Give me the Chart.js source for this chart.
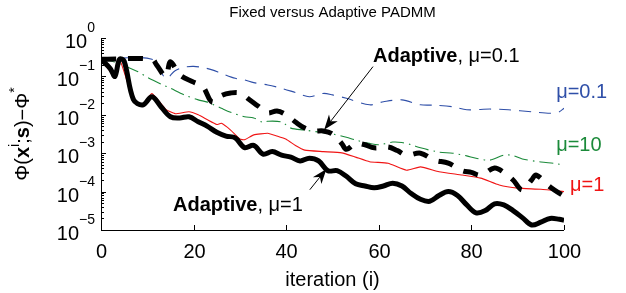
<!DOCTYPE html>
<html>
<head>
<meta charset="utf-8">
<script src="https://cdn.jsdelivr.net/npm/chart.js@4.4.0/dist/chart.umd.min.js"></script>
<style>
  html, body { margin: 0; padding: 0; background: #fff; }
  #wrap { width: 626px; height: 293px; }
</style>
</head>
<body>
<div id="wrap"><canvas id="chart" width="626" height="293"></canvas></div>
<script>
// Fixed mu = 0.1 (blue dashed)
const fixed01Iter = [0, 11, 14, 16, 18, 20, 22, 24, 26, 29, 31, 33, 36, 39, 42, 45, 48, 50, 53, 58, 61, 65, 69, 72, 76, 79, 84, 88, 93, 97, 99, 100];
const fixed01Vals = [2.8e-1, 2.8e-1, 8.9e-2, 1.41e-1, 1.74e-1, 1.82e-1, 1.7e-1, 1.48e-1, 1.2e-1, 8.9e-2, 8.1e-2, 6.9e-2, 6.0e-2, 4.9e-2, 3.8e-2, 2.95e-2, 3.6e-2, 3.3e-2, 2.69e-2, 1.82e-2, 2.19e-2, 2.45e-2, 1.82e-2, 1.78e-2, 1.62e-2, 1.35e-2, 1.41e-2, 1.35e-2, 1.2e-2, 1.1e-2, 1.2e-2, 1.48e-2];

// Fixed mu = 10 (green dash-dot)
const fixed10Iter = [0, 3, 8, 10, 13, 15, 18, 21, 23, 26, 28, 31, 33, 35, 36, 39, 41, 44, 47, 50, 53, 55, 58, 60, 63, 65, 67, 69, 73, 76, 79, 81, 84, 87, 89, 91, 95, 98, 100];
const fixed10Vals = [2.8e-1, 2.34e-1, 1.32e-1, 9.5e-2, 6.3e-2, 4.9e-2, 3.3e-2, 2.45e-2, 2.14e-2, 1.48e-2, 1.17e-2, 8.9e-3, 8.3e-3, 6.3e-3, 6.8e-3, 6.5e-3, 4.5e-3, 4.0e-3, 3.55e-3, 3.16e-3, 2.6e-3, 2.2e-3, 1.8e-3, 1.66e-3, 1.95e-3, 1.9e-3, 1.66e-3, 1.38e-3, 1.07e-3, 1.0e-3, 8.5e-4, 7.4e-4, 6.6e-4, 8.9e-4, 8.7e-4, 7.1e-4, 5.9e-4, 5.4e-4, 4.9e-4];

// Fixed mu = 1 (red solid)
const fixed1Iter = [0, 3, 4, 7, 9, 11, 14, 16, 19, 21, 23, 25, 26, 28, 30, 31, 33, 36, 38, 40, 42, 44, 48, 52, 55, 58, 62, 66, 69, 73, 78, 82, 86, 90, 95, 100];
const fixed1Vals = [2.8e-1, 1.0e-1, 2.8e-1, 2.5e-2, 1.9e-2, 3.6e-2, 1.38e-2, 1.07e-2, 1.2e-2, 1.0e-2, 7.4e-3, 5.6e-3, 6.0e-3, 4.0e-3, 2.34e-3, 2.24e-3, 3.0e-3, 3.3e-3, 2.8e-3, 2.3e-3, 1.58e-3, 1.2e-3, 1.1e-3, 1.02e-3, 7.9e-4, 6.0e-4, 5.5e-4, 3.6e-4, 4.4e-4, 3.3e-4, 2.7e-4, 2.24e-4, 1.48e-4, 1.23e-4, 1.15e-4, 1.0e-4];

// Adaptive, mu = 0.1 (thick black dashed)
const adapt01Iter = [0, 11, 12, 14, 15, 17, 20, 22, 24, 26, 28, 30, 32, 34, 36, 38, 40, 42, 44, 46, 48, 50, 52, 53, 55, 57, 59, 62, 64, 66, 69, 72, 75, 78, 80, 82, 85, 87, 89, 91, 93, 94, 97, 100];
const adapt01Vals = [2.8e-1, 2.8e-1, 2.0e-1, 1.0e-1, 2.4e-1, 1.1e-1, 7.1e-2, 5.4e-2, 2.14e-2, 3.16e-2, 3.7e-2, 3.7e-2, 2.5e-2, 1.66e-2, 1.12e-2, 1.26e-2, 1.0e-2, 6.5e-3, 4.5e-3, 3.8e-3, 3.8e-3, 3.16e-3, 1.78e-3, 1.26e-3, 1.78e-3, 1.66e-3, 1.38e-3, 1.45e-3, 1.17e-3, 8.9e-4, 1.0e-3, 6.6e-4, 5.5e-4, 3.5e-4, 3.16e-4, 2.7e-4, 4.1e-4, 3.16e-4, 2.0e-4, 1.1e-4, 2.0e-4, 2.7e-4, 1.32e-4, 7.6e-5];

// Adaptive, mu = 1 (thick black solid)
const adapt1Iter = [0, 2, 3, 4, 5, 7, 9, 11, 13, 15, 17, 19, 21, 23, 25, 27, 29, 31, 33, 35, 37, 39, 41, 43, 45, 47, 49, 51, 53, 55, 57, 59, 61, 63, 65, 67, 69, 71, 73, 75, 77, 79, 81, 83, 85, 87, 89, 91, 93, 95, 97, 99, 100];
const adapt1Vals = [2.8e-1, 1.6e-1, 1.0e-1, 2.8e-1, 2.5e-1, 2.5e-2, 1.8e-2, 2.95e-2, 1.6e-2, 8.9e-3, 8.3e-3, 8.9e-3, 6.6e-3, 5.0e-3, 3.5e-3, 2.8e-3, 2.5e-3, 1.4e-3, 1.6e-3, 9.5e-4, 1.1e-3, 8.9e-4, 7.9e-4, 6.3e-4, 7.4e-4, 6.3e-4, 3.5e-4, 3.5e-4, 2.5e-4, 1.6e-4, 1.4e-4, 1.26e-4, 1.4e-4, 1.66e-4, 1.4e-4, 8.9e-5, 6.3e-5, 5.6e-5, 7.9e-5, 1.0e-4, 7.9e-5, 4.5e-5, 2.8e-5, 3.2e-5, 4.8e-5, 4.5e-5, 3.2e-5, 2.1e-5, 1.35e-5, 1.6e-5, 2.0e-5, 1.9e-5, 1.8e-5];

// axis ticks
const xTickVals = [0, 20, 40, 60, 80, 100];
const yTickExps = [0, -1, -2, -3, -4, -5];

const FONT = '"Liberation Sans", Arial, Helvetica, sans-serif';
const BLUE = '#2f4fa8';
const GREEN = '#1b8a3a';
const RED = '#f01414';

function pts(xs, ys) {
    return xs.map((x, i) => ({x: x, y: ys[i]}));
}

function fontFor(p, size) {
    const s = p.sup ? Math.round(size * 0.7) : size;
    return (p.b ? 'bold ' : '') + s + 'px ' + FONT;
}

function richWidth(ctx, parts, size) {
    let w = 0;
    parts.forEach(p => {
        ctx.font = fontFor(p, size);
        w += ctx.measureText(p.t).width;
    });
    return w;
}

function drawRich(ctx, parts, x, y, size, raise) {
    let cx = x;
    parts.forEach(p => {
        ctx.font = fontFor(p, size);
        ctx.fillText(p.t, cx, p.sup ? y - raise : y);
        cx += ctx.measureText(p.t).width;
    });
}

function drawArrow(ctx, x1, y1, x2, y2) {
    const ang = Math.atan2(y2 - y1, x2 - x1);
    const L = 15, W = 5.5;
    const bx = x2 - L * Math.cos(ang), by = y2 - L * Math.sin(ang);
    const nx = x2 - L * 0.7 * Math.cos(ang), ny = y2 - L * 0.7 * Math.sin(ang);
    ctx.beginPath();
    ctx.moveTo(x1, y1);
    ctx.lineTo(nx, ny);
    ctx.lineWidth = 1;
    ctx.strokeStyle = '#000';
    ctx.stroke();
    ctx.beginPath();
    ctx.moveTo(x2, y2);
    ctx.lineTo(bx + W * Math.sin(ang), by - W * Math.cos(ang));
    ctx.lineTo(nx, ny);
    ctx.lineTo(bx - W * Math.sin(ang), by + W * Math.cos(ang));
    ctx.closePath();
    ctx.fillStyle = '#000';
    ctx.fill();
}

// Axes, tick labels, titles and annotations
const decorPlugin = {
    id: 'decor',
    afterDraw(chart) {
        const ctx = chart.ctx;
        const area = chart.chartArea;
        const xs = chart.scales.x, ys = chart.scales.y;
        ctx.save();

        // axis lines
        ctx.strokeStyle = '#000';
        ctx.lineWidth = 1;
        ctx.beginPath();
        ctx.moveTo(Math.round(area.left) + 0.5, area.top);
        ctx.lineTo(Math.round(area.left) + 0.5, Math.round(area.bottom) + 0.5);
        ctx.lineTo(area.right, Math.round(area.bottom) + 0.5);
        ctx.stroke();

        // x ticks
        ctx.fillStyle = '#000';
        ctx.textAlign = 'center';
        ctx.textBaseline = 'middle';
        ctx.font = '20px ' + FONT;
        xTickVals.forEach(v => {
            const px = Math.round(xs.getPixelForValue(v)) + 0.5;
            ctx.beginPath();
            ctx.moveTo(px, area.bottom);
            ctx.lineTo(px, area.bottom - 5);
            ctx.stroke();
            ctx.fillText(String(v), px, area.bottom + 22);
        });

        // y ticks (major + minor)
        yTickExps.forEach(e => {
            const py = Math.round(ys.getPixelForValue(Math.pow(10, e))) + 0.5;
            ctx.beginPath();
            ctx.moveTo(area.left, py);
            ctx.lineTo(area.left + 5, py);
            ctx.stroke();
            if (e < 0) {
                for (let m = 2; m <= 9; m++) {
                    const my = Math.round(ys.getPixelForValue(m * Math.pow(10, e))) + 0.5;
                    ctx.beginPath();
                    ctx.moveTo(area.left, my);
                    ctx.lineTo(area.left + 3, my);
                    ctx.stroke();
                }
            }
            const parts = [{t: '10'}, {t: e === 0 ? '0' : '\u2212' + (-e), sup: true}];
            const w = richWidth(ctx, parts, 20);
            ctx.textAlign = 'left';
            ctx.textBaseline = 'alphabetic';
            drawRich(ctx, parts, area.left - 6 - w, py + 9, 20, 16);
        });

        // title
        ctx.textAlign = 'center';
        ctx.textBaseline = 'middle';
        ctx.font = '15px ' + FONT;
        ctx.fillText('Fixed versus Adaptive PADMM', (area.left + area.right) / 2, 13);

        // x label
        ctx.font = '20px ' + FONT;
        ctx.fillText('iteration (i)', (area.left + area.right) / 2, 280);

        // y label
        const yl = [{t: '\u03a6('}, {t: 'x', b: true}, {t: 'i', sup: true}, {t: ';'}, {t: 's', b: true},
                    {t: ')\u2212\u03a6'}, {t: '*', sup: true}];
        ctx.save();
        ctx.translate(29, (area.top + area.bottom) / 2);
        ctx.rotate(-Math.PI / 2);
        ctx.textAlign = 'left';
        ctx.textBaseline = 'alphabetic';
        const ylw = richWidth(ctx, yl, 20);
        drawRich(ctx, yl, -ylw / 2, 0, 20, 10);
        ctx.restore();

        // curve labels at right
        ctx.textAlign = 'left';
        ctx.textBaseline = 'middle';
        ctx.font = '20px ' + FONT;
        ctx.fillStyle = BLUE;
        ctx.fillText('\u03bc=0.1', xs.getPixelForValue(98.3), ys.getPixelForValue(0.038));
        ctx.fillStyle = GREEN;
        ctx.fillText('\u03bc=10', xs.getPixelForValue(98.3), ys.getPixelForValue(1.58e-3));
        ctx.fillStyle = RED;
        ctx.fillText('\u03bc=1', xs.getPixelForValue(101.3), ys.getPixelForValue(1.44e-4));

        // adaptive labels
        ctx.fillStyle = '#000';
        ctx.textBaseline = 'alphabetic';
        drawRich(ctx, [{t: 'Adaptive', b: true}, {t: ', \u03bc=0.1'}],
                 xs.getPixelForValue(58.75), ys.getPixelForValue(0.243), 20, 0);
        drawRich(ctx, [{t: 'Adaptive', b: true}, {t: ', \u03bc=1'}],
                 xs.getPixelForValue(15.55), ys.getPixelForValue(3.1e-5), 20, 0);

        // arrows
        drawArrow(ctx, xs.getPixelForValue(58.75), ys.getPixelForValue(0.18),
                  xs.getPixelForValue(48.2), ys.getPixelForValue(0.0041));
        drawArrow(ctx, xs.getPixelForValue(45.1), ys.getPixelForValue(1.12e-4),
                  xs.getPixelForValue(48.7), ys.getPixelForValue(3.9e-4));

        ctx.restore();
    }
};

const ctx = document.getElementById('chart').getContext('2d');
new Chart(ctx, {
    type: 'line',
    data: {
        datasets: [
            {
                label: 'Adaptive, \u03bc=1',
                data: pts(adapt1Iter, adapt1Vals),
                borderColor: '#000', borderWidth: 5, tension: 0.35,
                borderJoinStyle: 'round', order: 0
            },
            {
                label: 'Adaptive, \u03bc=0.1',
                data: pts(adapt01Iter, adapt01Vals),
                borderColor: '#000', borderWidth: 5, tension: 0.35,
                borderDash: [15, 12], order: 1
            },
            {
                label: '\u03bc=1',
                data: pts(fixed1Iter, fixed1Vals),
                borderColor: RED, borderWidth: 1.1, tension: 0.15, order: 2
            },
            {
                label: '\u03bc=10',
                data: pts(fixed10Iter, fixed10Vals),
                borderColor: GREEN, borderWidth: 1.1, tension: 0.3,
                borderDash: [14, 5, 1.5, 5], order: 3
            },
            {
                label: '\u03bc=0.1',
                data: pts(fixed01Iter, fixed01Vals),
                borderColor: BLUE, borderWidth: 1.1, tension: 0.3,
                borderDash: [12, 8], order: 4
            }
        ]
    },
    options: {
        responsive: false,
        animation: false,
        layout: { padding: { left: 101, right: 62, top: 38, bottom: 63 } },
        elements: { point: { radius: 0 } },
        plugins: {
            legend: { display: false },
            tooltip: { enabled: false },
            title: { display: false }
        },
        scales: {
            x: { type: 'linear', min: 0, max: 100, display: false },
            y: { type: 'logarithmic', min: 1e-5, max: 1, display: false }
        }
    },
    plugins: [decorPlugin]
});
</script>
</body>
</html>
